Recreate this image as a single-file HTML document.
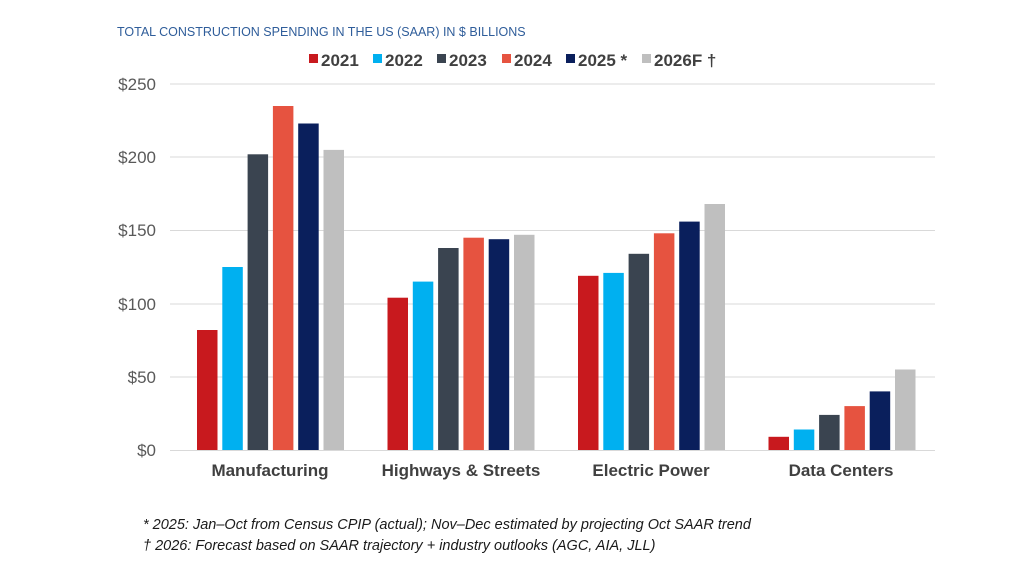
<!DOCTYPE html>
<html><head><meta charset="utf-8"><style>
body{margin:0;background:#fff;}
svg{display:block;}
</style></head><body>
<svg width="1024" height="576" xmlns="http://www.w3.org/2000/svg" font-family="Liberation Sans, sans-serif">
<text x="117" y="36" font-size="12.5" fill="#2f5d9a">TOTAL CONSTRUCTION SPENDING IN THE US (SAAR) IN $ BILLIONS</text>
<g font-size="17" font-weight="bold" fill="#404040">
<rect x="309" y="54" width="9" height="9" fill="#c8191e"/><text x="321" y="66">2021</text>
<rect x="373" y="54" width="9" height="9" fill="#00b0f0"/><text x="385" y="66">2022</text>
<rect x="437" y="54" width="9" height="9" fill="#3a4450"/><text x="449" y="66">2023</text>
<rect x="502" y="54" width="9" height="9" fill="#e65340"/><text x="514" y="66">2024</text>
<rect x="566" y="54" width="9" height="9" fill="#0a1f5c"/><text x="578" y="66">2025 *</text>
<rect x="642" y="54" width="9" height="9" fill="#bfbfbf"/><text x="654" y="66">2026F †</text>
</g>
<g stroke="#d9d9d9" stroke-width="1">
<line x1="170" x2="935" y1="84" y2="84"/><line x1="170" x2="935" y1="157" y2="157"/>
<line x1="170" x2="935" y1="230.5" y2="230.5"/><line x1="170" x2="935" y1="304" y2="304"/>
<line x1="170" x2="935" y1="377" y2="377"/><line x1="170" x2="935" y1="450.5" y2="450.5"/>
</g>
<g font-size="17" fill="#595959" text-anchor="end">
<text x="156" y="90">$250</text><text x="156" y="163">$200</text><text x="156" y="236">$150</text>
<text x="156" y="310">$100</text><text x="156" y="383">$50</text><text x="156" y="456">$0</text>
</g>
<g>
<rect x="197" y="330" width="20.5" height="120" fill="#c8191e"/>
<rect x="222.3" y="267" width="20.5" height="183" fill="#00b0f0"/>
<rect x="247.6" y="154.3" width="20.5" height="295.7" fill="#3a4450"/>
<rect x="272.9" y="106" width="20.5" height="344" fill="#e65340"/>
<rect x="298.2" y="123.5" width="20.5" height="326.5" fill="#0a1f5c"/>
<rect x="323.5" y="149.9" width="20.5" height="300.1" fill="#bfbfbf"/>

<rect x="387.5" y="297.7" width="20.5" height="152.3" fill="#c8191e"/>
<rect x="412.8" y="281.6" width="20.5" height="168.4" fill="#00b0f0"/>
<rect x="438.1" y="248" width="20.5" height="202" fill="#3a4450"/>
<rect x="463.4" y="237.7" width="20.5" height="212.3" fill="#e65340"/>
<rect x="488.7" y="239.2" width="20.5" height="210.8" fill="#0a1f5c"/>
<rect x="514" y="234.8" width="20.5" height="215.2" fill="#bfbfbf"/>

<rect x="578" y="275.8" width="20.5" height="174.2" fill="#c8191e"/>
<rect x="603.3" y="272.9" width="20.5" height="177.1" fill="#00b0f0"/>
<rect x="628.6" y="253.8" width="20.5" height="196.2" fill="#3a4450"/>
<rect x="653.9" y="233.3" width="20.5" height="216.7" fill="#e65340"/>
<rect x="679.2" y="221.6" width="20.5" height="228.4" fill="#0a1f5c"/>
<rect x="704.5" y="204" width="20.5" height="246" fill="#bfbfbf"/>

<rect x="768.5" y="436.8" width="20.5" height="13.2" fill="#c8191e"/>
<rect x="793.8" y="429.5" width="20.5" height="20.5" fill="#00b0f0"/>
<rect x="819.1" y="414.9" width="20.5" height="35.1" fill="#3a4450"/>
<rect x="844.4" y="406.1" width="20.5" height="43.9" fill="#e65340"/>
<rect x="869.7" y="391.4" width="20.5" height="58.6" fill="#0a1f5c"/>
<rect x="895" y="369.5" width="20.5" height="80.5" fill="#bfbfbf"/>
</g>
<g font-size="17" font-weight="bold" fill="#404040" text-anchor="middle">
<text x="270" y="476">Manufacturing</text><text x="461" y="476">Highways &amp; Streets</text>
<text x="651" y="476">Electric Power</text><text x="841" y="476">Data Centers</text>
</g>
<g font-size="14.5" font-style="italic" fill="#1a1a1a">
<text x="143" y="529">* 2025: Jan–Oct from Census CPIP (actual); Nov–Dec estimated by projecting Oct SAAR trend</text>
<text x="143" y="550">† 2026: Forecast based on SAAR trajectory + industry outlooks (AGC, AIA, JLL)</text>
</g>
</svg>
</body></html>
